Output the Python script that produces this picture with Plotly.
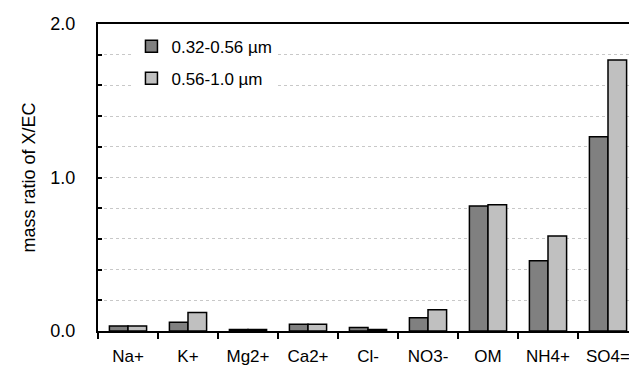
import plotly.graph_objects as go

categories = ["Na+", "K+", "Mg2+", "Ca2+", "Cl-", "NO3-", "OM", "NH4+", "SO4="]
fine = [0.033, 0.057, 0.010, 0.044, 0.022, 0.087, 0.814, 0.458, 1.266]
coarse = [0.033, 0.120, 0.010, 0.044, 0.010, 0.139, 0.823, 0.619, 1.765]
series_names = ["0.32-0.56 µm", "0.56-1.0 µm"]

FONT = "Liberation Sans Narrow, Arial Narrow, Liberation Sans, Arial, sans-serif"

fig = go.Figure()
fig.add_trace(go.Bar(x=categories, y=fine, name=series_names[0], legendgroup="a",
                     marker=dict(color="#808080", line=dict(color="black", width=1.5))))
fig.add_trace(go.Bar(x=categories, y=coarse, name=series_names[1], legendgroup="b",
                     marker=dict(color="#c0c0c0", line=dict(color="black", width=1.5))))

fig.update_layout(
    width=629, height=372, autosize=False,
    margin=dict(l=98, r=0, t=24, b=41, autoexpand=False),
    paper_bgcolor="white", plot_bgcolor="white",
    font=dict(family=FONT, color="black", size=16),
    barmode="group", bargap=0.38, bargroupgap=0,
    legend=dict(x=0.063, y=0.985, xanchor="left", yanchor="top",
                bgcolor="white", font=dict(size=17, family=FONT),
                tracegroupgap=7, itemwidth=30),
    showlegend=True,
)
fig.update_xaxes(
    range=[-0.5, 8.35], showline=True, linecolor="black", linewidth=2, mirror=True,
    ticks="outside", tickson="boundaries", ticklen=6, tickwidth=1.5, tickcolor="black",
    showgrid=False, tickfont=dict(size=17, family=FONT), ticklabelstandoff=9,
    automargin=False,
)
fig.update_yaxes(
    range=[0, 2.0], dtick=1.0, tickformat=".1f", showline=True, linecolor="black", linewidth=2,
    ticks="inside", ticklen=4, tickwidth=1.5, tickcolor="black",
    showgrid=True, gridcolor="#c8c8c8", griddash="dot", gridwidth=1,
    minor=dict(dtick=0.2, ticks="inside", ticklen=4, tickwidth=1.5, tickcolor="black",
               showgrid=True, gridcolor="#c8c8c8", griddash="dot", gridwidth=1),
    tickfont=dict(size=18, family=FONT), ticklabelstandoff=17, zeroline=False,
    title=dict(text="mass ratio of X/EC", font=dict(size=18, family=FONT), standoff=10),
    automargin=False,
)

fig.write_html("out.html", config={"displayModeBar": False},
               post_script="document.body.style.margin='0';document.body.style.overflow='hidden';")
